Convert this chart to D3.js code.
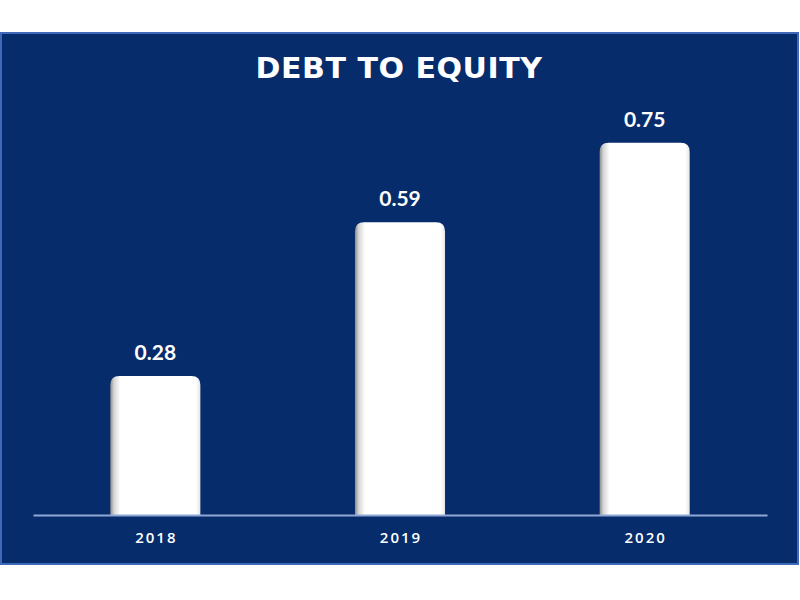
<!DOCTYPE html>
<html><head><meta charset="utf-8">
<script src="https://cdn.jsdelivr.net/npm/d3@7"></script>
<style>html,body{margin:0;padding:0;background:#fff;}svg{display:block;}</style>
</head><body>
<svg id="chart" width="800" height="600"></svg>
<script>
const categories = ["2018", "2019", "2020"];
const values = [0.28, 0.59, 0.75];
const valueLabels = ["0.28", "0.59", "0.75"];
const title = "DEBT TO EQUITY";

const svg = d3.select("#chart");

// panel
svg.append("rect").attr("x", 1).attr("y", 33).attr("width", 797).attr("height", 531)
  .attr("fill", "#062c6b").attr("stroke", "#3f68b8").attr("stroke-width", 2);

const defs = svg.append("defs");
const g = defs.append("linearGradient").attr("id", "barGrad").attr("x1", "0%").attr("x2", "100%").attr("y1", "0%").attr("y2", "0%");
g.append("stop").attr("offset", "0%").attr("stop-color", "#8c8c8c");
g.append("stop").attr("offset", "4%").attr("stop-color", "#d4d4d4");
g.append("stop").attr("offset", "11%").attr("stop-color", "#ffffff");
g.append("stop").attr("offset", "95%").attr("stop-color", "#ffffff");
g.append("stop").attr("offset", "100%").attr("stop-color", "#e6e6e6");

const x = d3.scaleBand().domain(categories).range([33, 767]).paddingInner(0.632).paddingOuter(0.316);
const y = d3.scaleLinear().domain([0, 0.8]).range([515, 118]);

svg.append("text").attr("x", 399).attr("y", 78).attr("text-anchor", "middle")
  .attr("fill", "#ffffff").attr("font-family", "'DejaVu Sans', sans-serif")
  .attr("font-weight", 700).attr("font-size", 28)
  .attr("letter-spacing", "0.5px")
  .attr("textLength", 287).attr("lengthAdjust", "spacingAndGlyphs")
  .text(title);

const r = 9;
function barPath(x0, w, yTop, yBot) {
  return `M${x0},${yBot} L${x0},${yTop + r} Q${x0},${yTop} ${x0 + r},${yTop} L${x0 + w - r},${yTop} Q${x0 + w},${yTop} ${x0 + w},${yTop + r} L${x0 + w},${yBot} Z`;
}

svg.selectAll("path.bar").data(categories).enter().append("path").attr("class", "bar")
  .attr("d", (d, i) => barPath(x(d), x.bandwidth(), y(values[i]), y(0)))
  .attr("fill", "url(#barGrad)");

svg.selectAll("text.val").data(categories).enter().append("text").attr("class", "val")
  .attr("x", d => x(d) + x.bandwidth() / 2)
  .attr("y", (d, i) => y(values[i]) - 16)
  .attr("text-anchor", "middle").attr("fill", "#fff")
  .attr("font-family", "Lato, 'Open Sans', sans-serif").attr("font-weight", 700).attr("font-size", 21)
  .text((d, i) => valueLabels[i]);

const axis = svg.append("g").attr("transform", `translate(0,${y(0)})`)
  .call(d3.axisBottom(x).tickSize(0).tickPadding(0));
axis.select(".domain").attr("stroke", "#8ea7d6").attr("stroke-width", 2);
axis.selectAll(".tick text").attr("fill", "#fff").attr("dy", null).attr("y", 28)
  .attr("font-family", "'Open Sans', sans-serif").attr("font-weight", 600).attr("font-size", 15)
  .attr("letter-spacing", "2px")
  .attr("dx", "1px");
</script>
</body></html>
